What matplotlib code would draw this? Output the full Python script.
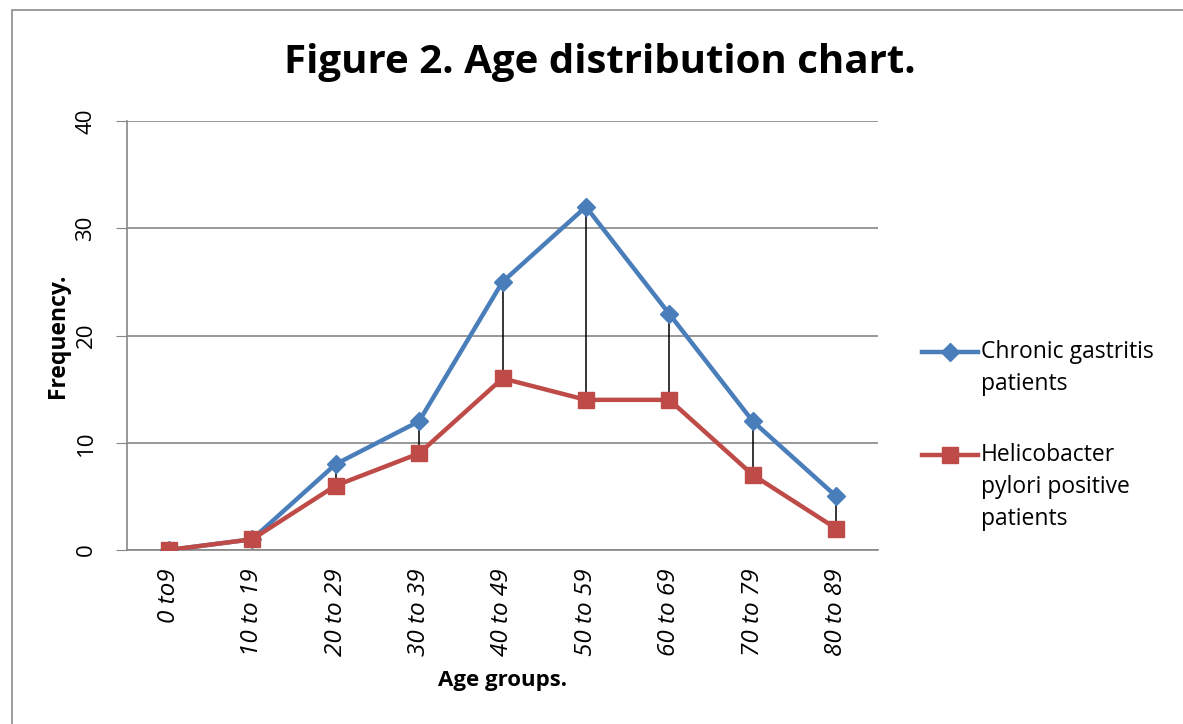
import numpy as np
import matplotlib
matplotlib.use("Agg")
import matplotlib.pyplot as plt
from matplotlib.patches import Rectangle
from matplotlib.lines import Line2D

# data
age_groups = ["0 to9", "10 to 19", "20 to 29", "30 to 39", "40 to 49",
              "50 to 59", "60 to 69", "70 to 79", "80 to 89"]
chronic = [0, 1, 8, 12, 25, 32, 22, 12, 5]
hpylori = [0, 1, 6, 9, 16, 14, 14, 7, 2]

blue = '#4a7ebb'
red = '#be4b48'
grid_c = '#868686'

plt.rcParams['font.family'] = ['Open Sans', 'DejaVu Sans']

W, H = 1183, 724
fig = plt.figure(figsize=(W / 100, H / 100), dpi=100)

# outer chart border
fig.patches.append(Rectangle((12 / W, -0.01), 1.05, 1 - 10 / H + 0.01,
                             transform=fig.transFigure, fill=False,
                             edgecolor='#8c8c8c', linewidth=1.2))

ax = fig.add_axes([127 / W, 1 - 550 / H, (878 - 127) / W, (550 - 121) / H])
x = np.arange(len(age_groups))

# high-low lines
ax.vlines(x, hpylori, chronic, color='black', linewidth=1.1, zorder=2)

ax.plot(x, chronic, color=blue, linewidth=3.2, marker='D',
        markersize=9, zorder=3)
ax.plot(x, hpylori, color=red, linewidth=3.2, marker='s',
        markersize=12, zorder=4)

ax.set_xlim(-0.5, len(age_groups) - 0.5)
ax.set_ylim(0, 40)
ax.set_yticks([0, 10, 20, 30, 40])
ax.set_xticks(x)
ax.set_xticklabels(age_groups, rotation=90, fontstyle='italic', fontsize=17.5)
ax.tick_params(axis='x', length=0, pad=13)
ax.tick_params(axis='y', length=8, color=grid_c, labelsize=16, pad=14)
for lab in ax.get_yticklabels():
    lab.set_rotation(90)
    lab.set_va('center')

ax.grid(axis='y', color=grid_c, linewidth=1.2)
ax.set_axisbelow(True)
for s in ['top', 'right']:
    ax.spines[s].set_visible(False)
for s in ['left', 'bottom']:
    ax.spines[s].set_color(grid_c)
    ax.spines[s].set_linewidth(1.2)

ax.set_ylabel('Frequency.', fontsize=16.5, fontweight='bold', labelpad=4)
ax.set_xlabel('Age groups.', fontsize=16, fontweight='bold', labelpad=10)

fig.text(600 / W, 1 - 63 / H, 'Figure 2. Age distribution chart.',
         ha='center', va='center', fontsize=29, fontweight='bold')

# legend drawn by hand so the key sits on the first text line
legend_items = [
    (blue, 'D', 9, ['Chronic gastritis', 'patients'], 352),
    (red, 's', 12, ['Helicobacter', 'pylori positive', 'patients'], 455),
]
for color, mk, ms, lines, y0 in legend_items:
    fig.add_artist(Line2D([922 / W, 978 / W], [1 - y0 / H] * 2,
                          transform=fig.transFigure, color=color,
                          linewidth=3.2))
    fig.add_artist(Line2D([950 / W], [1 - y0 / H], transform=fig.transFigure,
                          color=color, marker=mk, markersize=ms,
                          linestyle='none'))
    for i, t in enumerate(lines):
        fig.text(981 / W, 1 - (y0 + 32 * i) / H, t, ha='left', va='center',
                 fontsize=16.5)

fig.savefig('out.png', dpi=100)
